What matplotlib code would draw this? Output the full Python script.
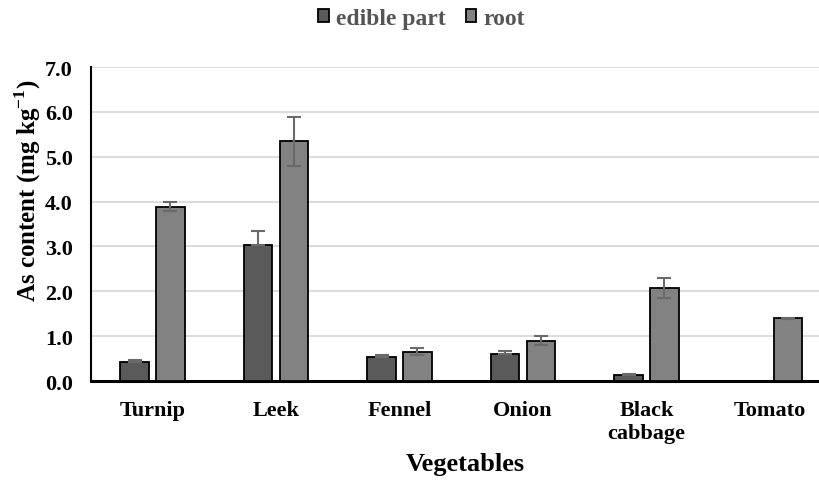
import numpy as np
import matplotlib
matplotlib.use("Agg")
import matplotlib.pyplot as plt

plt.rcParams['font.family'] = ['Liberation Serif', 'DejaVu Serif']
plt.rcParams['font.weight'] = 'bold'
plt.rcParams['mathtext.fontset'] = 'custom'
plt.rcParams['mathtext.rm'] = 'Liberation Serif:bold'
plt.rcParams['mathtext.bf'] = 'Liberation Serif:bold'

# data
vegetables = ["Turnip", "Leek", "Fennel", "Onion", "Black\ncabbage", "Tomato"]
edible = [0.42, 3.04, 0.53, 0.60, 0.13, 0.0]
edible_err = [0.05, 0.31, 0.06, 0.07, 0.03, 0.0]
root = [3.89, 5.34, 0.65, 0.90, 2.08, 1.40]
root_err = [0.10, 0.55, 0.08, 0.10, 0.22, 0.01]

fig = plt.figure(figsize=(8.2, 4.81), dpi=100)
ax = fig.add_axes([0.1107, 0.2058, 0.9037, 0.6528])

x = np.arange(len(vegetables))
w = 0.23
off = 0.145

ekw = dict(ecolor='#6a6a6a', elinewidth=1.5, capsize=5, capthick=1.5, zorder=4)

# edible part: no bar drawn where nothing was measured (tomato)
ed = np.array(edible)
has = ed > 0
ax.bar(x[has] - off, ed[has], w, yerr=[np.zeros(has.sum()), np.array(edible_err)[has]],
       color='#5a5a5a', edgecolor='black', linewidth=1.3, label='edible part',
       error_kw=ekw, zorder=3)
ax.bar(x + off, root, w, yerr=root_err, color='#828282', edgecolor='black',
       linewidth=1.3, label='root', error_kw=ekw, zorder=3)

ax.set_xlim(-0.5, len(vegetables) - 0.5)
ax.set_ylim(0, 7)
ticks = np.arange(0, 7.1, 1.0)
ax.set_yticks(ticks)
ax.set_yticklabels([f"{v:.1f}" for v in ticks])
ax.set_xticks(x)
ax.set_xticklabels(vegetables, fontsize=16, fontweight='bold', linespacing=1.2)
ax.tick_params(axis='y', labelsize=16, length=0, pad=13)
ax.tick_params(axis='x', length=0, pad=14)

ax.yaxis.grid(True, color='#d9d9d9', linewidth=1.3, zorder=0)
ax.set_axisbelow(True)
for s in ['top', 'right']:
    ax.spines[s].set_visible(False)
ax.spines['left'].set_linewidth(1.5)
ax.spines['bottom'].set_linewidth(2.2)

ax.set_ylabel("As content (mg kg$^{-1}$)", fontsize=18, fontweight='bold')
ax.yaxis.set_label_coords(-0.085, 0.61)
ax.set_xlabel("Vegetables", fontsize=19, fontweight='bold')
ax.xaxis.set_label_coords(0.506, -0.264)
ax.xaxis.label.set_va('center')
ax.yaxis.label.set_va('center')

leg = fig.legend(loc='upper center', bbox_to_anchor=(0.514, 1.025), ncol=2, frameon=False,
                 fontsize=17, handlelength=0.45, handleheight=0.45, handletextpad=0.3,
                 columnspacing=0.85)
for t in leg.get_texts():
    t.set_color('#555555')

fig.savefig("out.png", dpi=100)
